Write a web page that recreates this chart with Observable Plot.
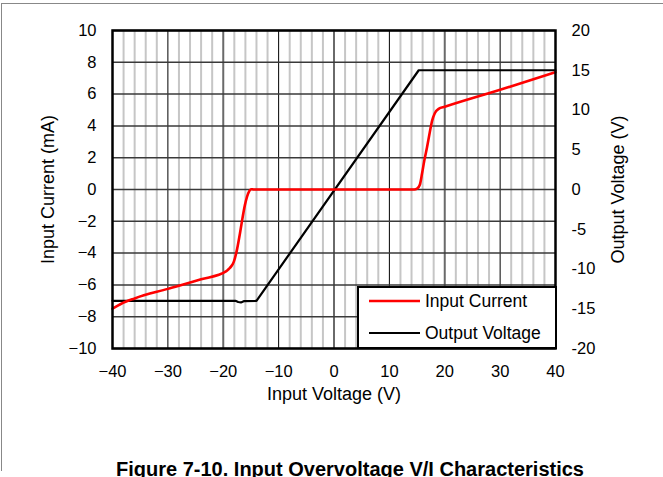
<!DOCTYPE html>
<html>
<head>
<meta charset="utf-8">
<script src="https://cdn.jsdelivr.net/npm/d3@7"></script>
<script src="https://cdn.jsdelivr.net/npm/@observablehq/plot@0.6"></script>
<style>
  html, body { margin: 0; padding: 0; background: white; }
  #wrap { position: relative; width: 663px; height: 477px; overflow: hidden; font-family: "Liberation Sans", Arial, sans-serif; }
  #border { position: absolute; left: 1px; top: 3px; width: 700px; height: 467px; border-left: 1px solid #888; border-top: 1px solid #888; pointer-events: none; }
  #legend { position: absolute; left: 357px; top: 286px; width: 196px; height: 59px; background: white; border: 2px solid black; }
  #legend svg { position: absolute; left: 0; top: 0; }
</style>
</head>
<body>
<div id="wrap"><div id="border"></div></div>
<script>
// ---- data ----
const xTicks = [-40, -30, -20, -10, 0, 10, 20, 30, 40];
const xMinorTicks = d3.range(-38, 40, 2).filter(d => d % 10 !== 0);
const xBlackGrid = [-30, -10, 10, 30];
const xGrayGrid = [-20, 0, 20];
const yLeftTicks = [-10, -8, -6, -4, -2, 0, 2, 4, 6, 8, 10];
const yRightTicks = [-20, -15, -10, -5, 0, 5, 10, 15, 20];

// Input current (mA) vs input voltage (V)
const currentVin = [-40, -38.5, -36, -30, -24, -19.5, -19, -18.6, -18.1, -17.5, -17, -16.6, -16.1, -15.7, -15.3, -15, -14.5, 0, 14.5, 15, 15.5, 15.9, 16.3, 16.8, 17.3, 17.7, 18.2, 18.9, 20, 30, 40];
const currentMA  = [-7.5, -7.2, -6.85, -6.25, -5.65, -5.15, -5.0, -4.85, -4.55, -3.75, -2.8, -1.95, -1.0, -0.45, -0.1, 0.02, 0, 0, 0, 0.05, 0.3, 1.0, 1.8, 2.65, 3.6, 4.3, 4.8, 5.07, 5.2, 6.27, 7.38];

// Output voltage (V) vs input voltage (V)
const outVin  = [-40, -17.8, -17.3, -16.8, -16.3, -14, 15.3, 40];
const outVolt = [-14, -14, -14.15, -14.2, -14.05, -14, 15, 15];

// right axis (V) maps onto left axis (mA): -20..20 V <-> -10..10 mA
const vToMA = 0.5;

const currentData = currentVin.map((v, i) => ({x: v, y: currentMA[i]}));
const outData = outVin.map((v, i) => ({x: v, y: outVolt[i] * vToMA}));

const minus = d => d < 0 ? "\u2212" + (-d) : String(d);

const chart = Plot.plot({
  width: 663,
  height: 477,
  marginLeft: 112,
  marginRight: 108,
  marginTop: 30,
  marginBottom: 129,
  style: {fontFamily: '"Liberation Sans", Arial, sans-serif', fontSize: "16px", background: "white", color: "black", overflow: "visible"},
  x: {domain: [-40, 40]},
  y: {domain: [-10, 10]},
  marks: [
    Plot.gridX(xMinorTicks, {stroke: "#c6c6c6", strokeWidth: 2, strokeOpacity: 1}),
    Plot.gridX(xGrayGrid, {stroke: "#6a6a6a", strokeWidth: 2, strokeOpacity: 1}),
    Plot.gridX(xBlackGrid, {stroke: "black", strokeWidth: 1, strokeOpacity: 1}),
    Plot.gridY(yLeftTicks, {stroke: "#3a3a3a", strokeWidth: 1.5, strokeOpacity: 1}),
    Plot.axisX(xTicks, {anchor: "bottom", tickSize: 0, tickPadding: 17, tickFormat: minus, label: null, fontSize: 16.5}),
    Plot.axisY(yLeftTicks, {anchor: "left", tickSize: 0, tickPadding: 16, tickFormat: minus, label: null, fontSize: 16.5}),
    Plot.axisY(yRightTicks.map(v => v * vToMA), {anchor: "right", tickSize: 0, tickPadding: 16, tickFormat: d => String(d / vToMA), label: null, fontSize: 16.5}),
    Plot.line(outData, {x: "x", y: "y", stroke: "black", strokeWidth: 2.2}),
    Plot.line(currentData, {x: "x", y: "y", stroke: "#ff0000", strokeWidth: 2.6, curve: "monotone-x"}),
    Plot.frame({stroke: "black", strokeWidth: 2.5}),
    Plot.text(["Input Voltage (V)"], {frameAnchor: "bottom", dy: 51, fontSize: 18}),
    Plot.text(["Input Current (mA)"], {frameAnchor: "left", textAnchor: "middle", dx: -64, rotate: -90, fontSize: 18}),
    Plot.text(["Output Voltage (V)"], {frameAnchor: "right", textAnchor: "middle", dx: 63, rotate: -90, fontSize: 18}),
    Plot.text(["Figure 7-10. Input Overvoltage V/I Characteristics"], {frameAnchor: "bottom", dy: 127, dx: 16, fontSize: 20, fontWeight: "bold"})
  ]
});

const wrap = document.getElementById("wrap");
wrap.insertBefore(chart, wrap.firstChild);

// legend
const series = [
  {name: "Input Current", color: "#ff0000", width: 2.6},
  {name: "Output Voltage", color: "black", width: 2.2}
];
const legend = document.createElement("div");
legend.id = "legend";
const ns = "http://www.w3.org/2000/svg";
const lsvg = document.createElementNS(ns, "svg");
lsvg.setAttribute("width", 196);
lsvg.setAttribute("height", 59);
series.forEach((s, i) => {
  const yy = 13 + i * 32;
  const ln = document.createElementNS(ns, "line");
  ln.setAttribute("x1", 10); ln.setAttribute("x2", 61);
  ln.setAttribute("y1", yy); ln.setAttribute("y2", yy);
  ln.setAttribute("stroke", s.color); ln.setAttribute("stroke-width", s.width);
  lsvg.appendChild(ln);
  const tx = document.createElementNS(ns, "text");
  tx.setAttribute("x", 66); tx.setAttribute("y", yy);
  tx.setAttribute("dy", "0.35em");
  tx.setAttribute("font-size", 17.5);
  tx.setAttribute("font-family", '"Liberation Sans", Arial, sans-serif');
  tx.textContent = s.name;
  lsvg.appendChild(tx);
});
legend.appendChild(lsvg);
wrap.appendChild(legend);
</script>
</body>
</html>
